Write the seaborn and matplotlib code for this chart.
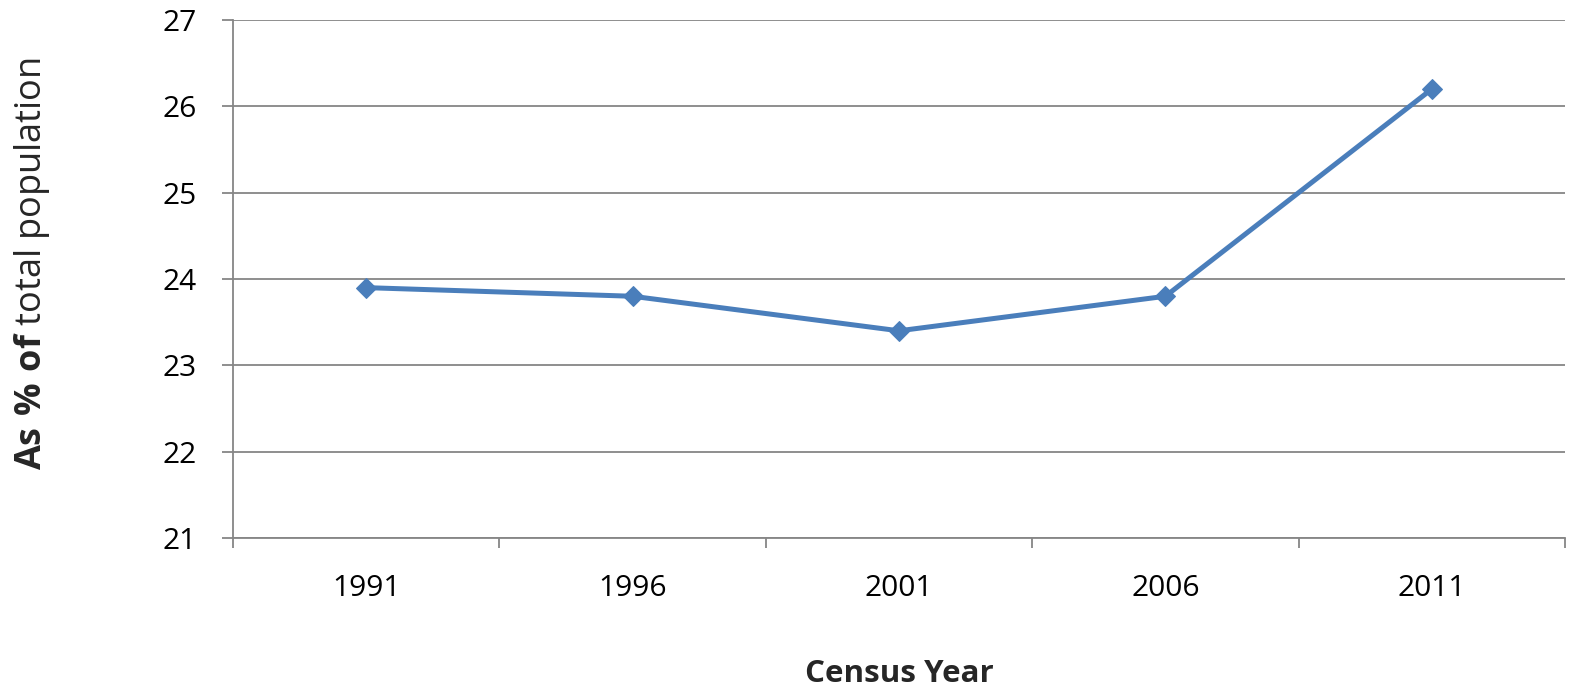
import matplotlib
matplotlib.use("Agg")
import matplotlib.pyplot as plt
import seaborn as sns
import pandas as pd
import numpy as np

years = ["1991", "1996", "2001", "2006", "2011"]
values = [23.9, 23.8, 23.4, 23.8, 26.2]
y_ticks = [21, 22, 23, 24, 25, 26, 27]

sns.set_theme(style="white")
plt.rcParams['font.family'] = ['Open Sans', 'DejaVu Sans']
plt.rcParams['mathtext.fontset'] = 'custom'
plt.rcParams['mathtext.rm'] = 'Open Sans'
plt.rcParams['mathtext.bf'] = 'Open Sans:bold'

df = pd.DataFrame({"year": years, "value": values})

fig = plt.figure(figsize=(15.81, 6.91), dpi=100)
ax = fig.add_axes([233/1581, 1-538/691, (1565-233)/1581, (538-20)/691])

grid_c = "#868686"
line_c = "#4A7EBB"

sns.lineplot(data=df, x="year", y="value", ax=ax, color=line_c, linewidth=3.6,
             marker="D", markersize=10.5, markeredgecolor=line_c, sort=False)

ax.set_ylim(21, 27)
ax.set_xlim(-0.5, len(years) - 0.5)
ax.set_yticks(y_ticks)
ax.set_yticklabels([str(t) for t in y_ticks])
ax.yaxis.grid(True, color=grid_c, linewidth=1.3)
ax.xaxis.grid(False)
ax.set_axisbelow(True)

ax.set_xticks(range(len(years)))
ax.set_xticklabels(years)
ax.set_xticks(np.arange(-0.5, len(years), 1.0), minor=True)
ax.tick_params(axis="x", which="major", length=0, pad=26, labelsize=21.5, colors="black")
ax.tick_params(axis="x", which="minor", length=7, width=1.3, color=grid_c, direction="out", bottom=True)
ax.tick_params(axis="y", which="major", length=8, width=1.3, color=grid_c, direction="out", left=True,
               pad=18, labelsize=21.5, labelcolor="black")

for s in ["top", "right"]:
    ax.spines[s].set_visible(False)
for s in ["left", "bottom"]:
    ax.spines[s].set_color(grid_c)
    ax.spines[s].set_linewidth(1.3)

ax.set_xlabel("Census Year", fontsize=22.5, fontweight="bold", labelpad=40)
ax.set_ylabel(r"$\mathbf{As\ \%\ of}$ total population", fontsize=26)
ax.yaxis.set_label_coords(-0.136, 0.53)

fig.savefig("out.png", dpi=100, facecolor="white")
